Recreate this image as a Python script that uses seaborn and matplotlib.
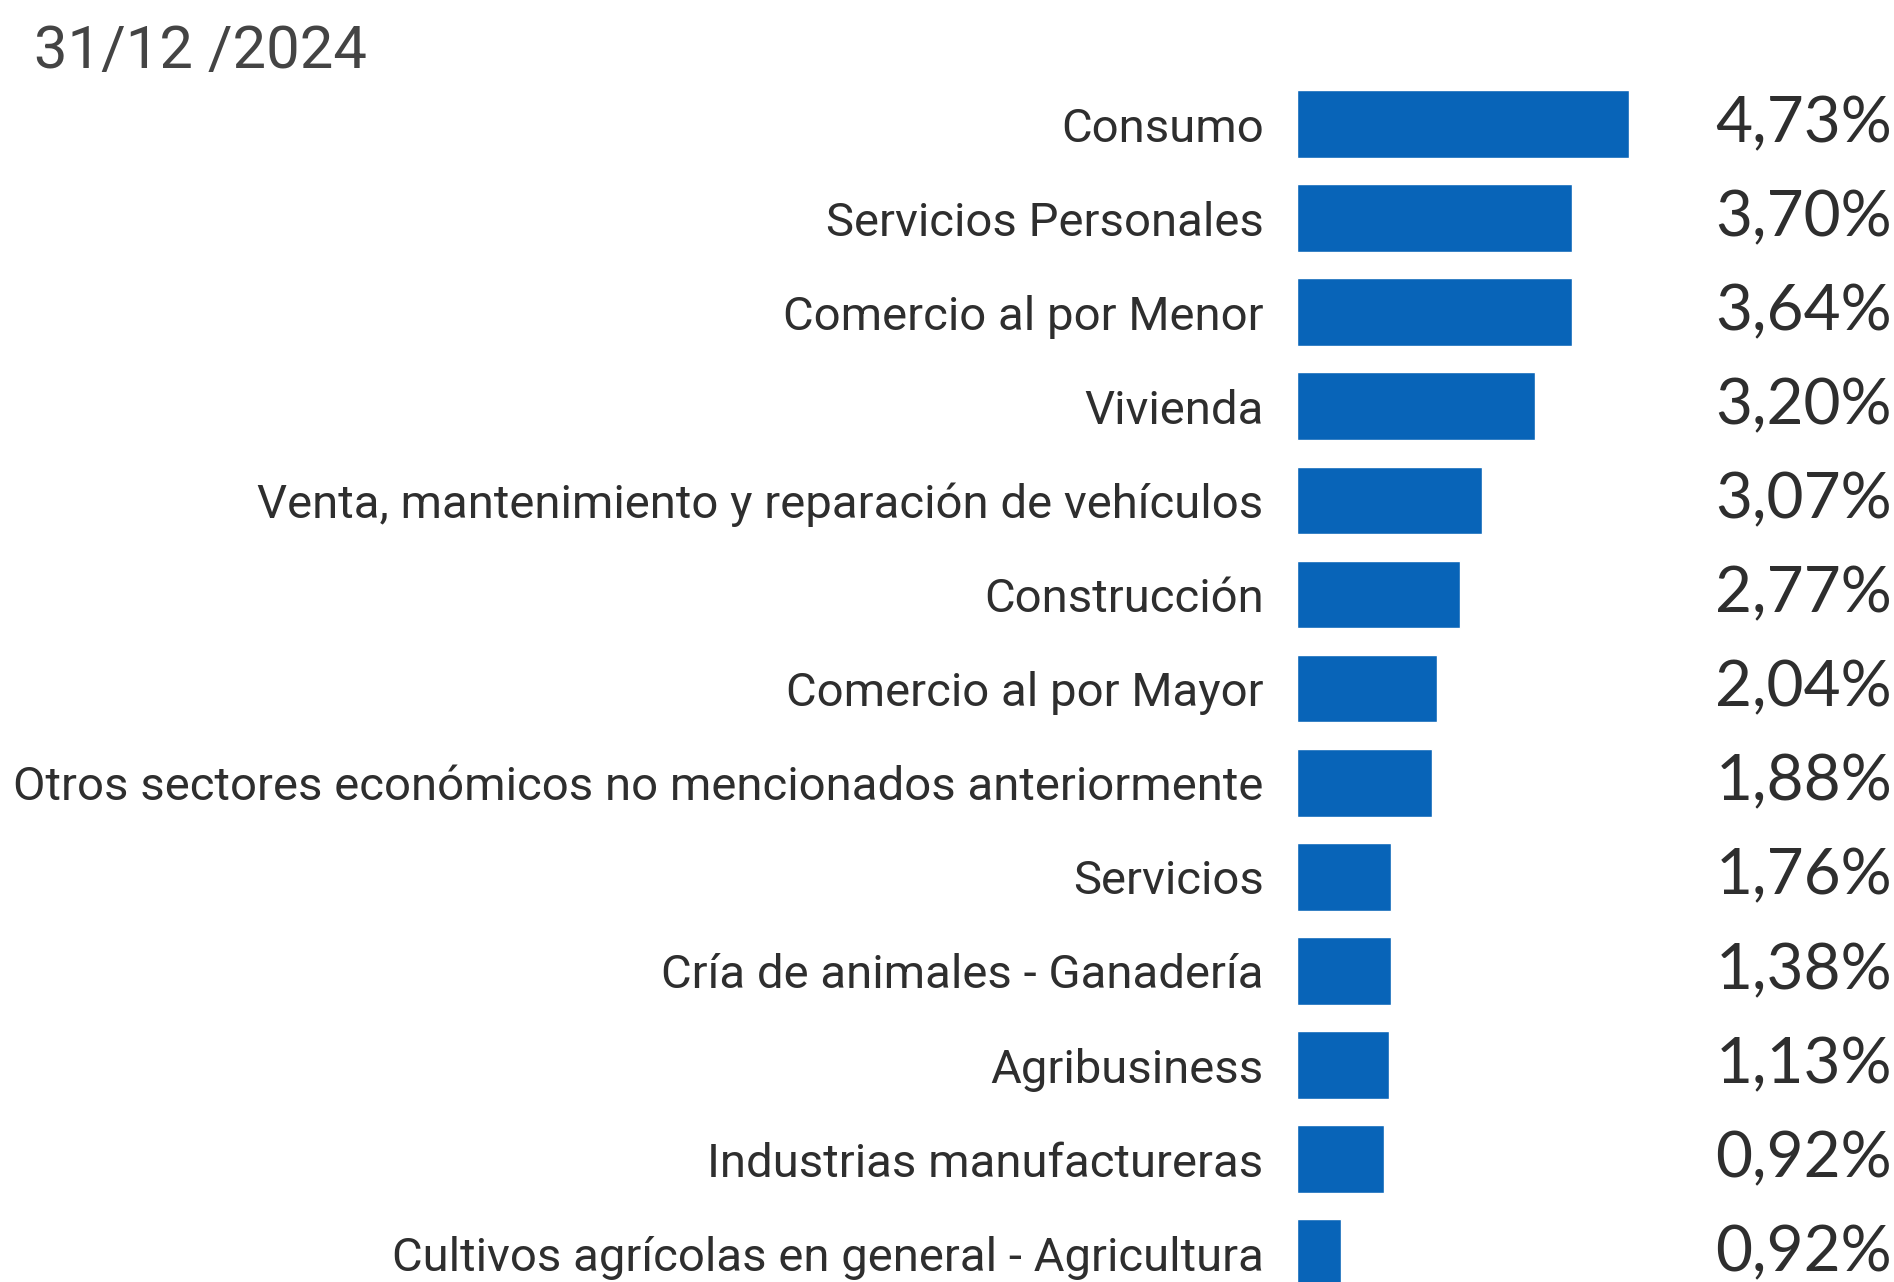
import matplotlib
matplotlib.use("Agg")
import matplotlib.pyplot as plt
import seaborn as sns
import pandas as pd

# data
sectors = [
    "Consumo",
    "Servicios Personales",
    "Comercio al por Menor",
    "Vivienda",
    "Venta, mantenimiento y reparación de vehículos",
    "Construcción",
    "Comercio al por Mayor",
    "Otros sectores económicos no mencionados anteriormente",
    "Servicios",
    "Cría de animales - Ganadería",
    "Agribusiness",
    "Industrias manufactureras",
    "Cultivos agrícolas en general - Agricultura",
]
# bar lengths as drawn in the reference (not always equal to the printed value)
bar_length = [4.73, 3.92, 3.92, 3.39, 2.63, 2.32, 2.00, 1.93, 1.34, 1.34, 1.31, 1.24, 0.62]
value_labels = ["4,73%", "3,70%", "3,64%", "3,20%", "3,07%", "2,77%", "2,04%",
                "1,88%", "1,76%", "1,38%", "1,13%", "0,92%", "0,92%"]
date_text = "31/12 /2024"

df = pd.DataFrame({"sector": sectors, "length": bar_length})

sns.set_theme(style="white")
plt.rcParams["font.family"] = ["Lato", "DejaVu Sans"]

fig = plt.figure(figsize=(18.94, 12.82), dpi=100)
ax = fig.add_axes([1297 / 1894, 0, 1 - 1297 / 1894, 1])

sns.barplot(data=df, y="sector", x="length", orient="h", color="#0864B8",
            saturation=1, width=0.72, ax=ax)

ax.set_xlim(0, 597 / 70.2)
ax.set_ylim(12.306, -1.318)
ax.set_xlabel("")
ax.set_ylabel("")
ax.set_xticks([])
ax.tick_params(axis="y", length=0, pad=24)
for lab in ax.get_yticklabels():
    lab.set_fontfamily("Roboto")
    lab.set_fontsize(34)
    lab.set_color("#2e2e2e")
sns.despine(ax=ax, left=True, bottom=True)

# fit the longest label into the space left of the bars
fig.canvas.draw()
r = fig.canvas.get_renderer()
longest = max(ax.get_yticklabels(), key=lambda t: t.get_window_extent(r).width)
w = longest.get_window_extent(r).width
size = 34 * 1250 / w
for lab in ax.get_yticklabels():
    lab.set_fontsize(size)

for i, txt in enumerate(value_labels):
    ax.text(1888 / 1894, i, txt, transform=ax.get_yaxis_transform(), ha="right",
            va="center", fontsize=46, color="#2e2e2e")

fig.text(34 / 1894, 1 - 52 / 1282, date_text, ha="left", va="center",
         fontsize=43, color="#444444", family="Roboto")

fig.savefig("out.png", dpi=100)
